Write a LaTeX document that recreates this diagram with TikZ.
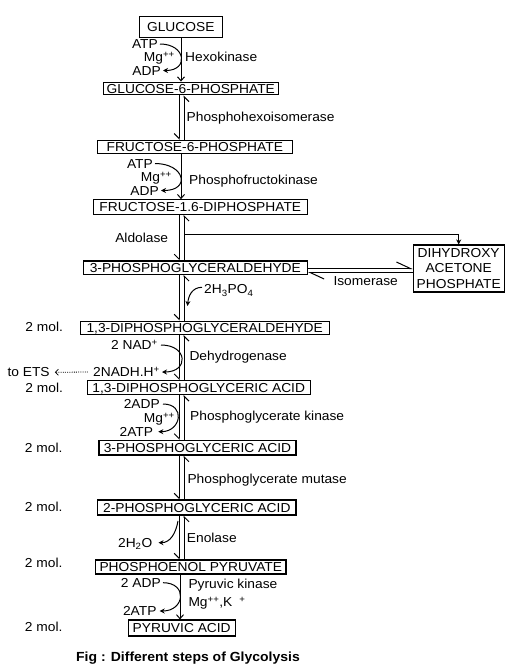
\documentclass[tikz,border=0pt]{standalone}
\usepackage{fontspec}
\setmainfont{Liberation Sans}[FakeStretch=1.06]
\usetikzlibrary{arrows.meta,calc}
\begin{document}
\begin{tikzpicture}[x=1pt,y=1pt,
  font=\fontsize{13}{15.5}\selectfont,
  box/.style={draw, line width=1.1pt, inner sep=0pt, text height=9.3pt, text depth=0pt},
  lbl/.style={inner sep=0pt, text height=9.3pt, text depth=0pt},
  conn/.style={line width=1pt},
  sarr/.style={conn, -{Straight Barb[length=4pt,width=7pt]}},
  harpv/.style={conn, -{Straight Barb[right,length=5pt,width=10pt]}},
  harph/.style={conn, -{Straight Barb[left,length=14pt,width=13pt]}},
  carr/.style={conn, -{Stealth[length=5pt,width=5pt]}},
  farr/.style={conn, -{Stealth[length=5pt,width=5pt]}},
]
\fill[white] (0,0) rectangle (512,-672);
\useasboundingbox (0,0) rectangle (512,-672);

% axis coordinates
\coordinate (axL) at (179.2,0);
\coordinate (axR) at (184,0);
\coordinate (axM) at (181,0);
\coordinate (axN) at (180,0);

% boxes
\node[box, line width=1.4pt, minimum width=83pt, minimum height=20.6pt] (glc) at (180.8,-27) {GLUCOSE};
\node[box, minimum width=175pt, minimum height=12.8pt] (g6p) at (190.8,-88.5) {GLUCOSE-6-PHOSPHATE};
\node[box, minimum width=195pt, minimum height=12.8pt] (f6p) at (194.8,-146.7) {FRUCTOSE-6-PHOSPHATE};
\node[box, minimum width=214pt, minimum height=14.5pt] (f16) at (200.3,-207) {FRUCTOSE-1.6-DIPHOSPHATE};
\node[box, minimum width=224pt, minimum height=13.3pt] (pgal) at (195.3,-267.6) {3-PHOSPHOGLYCERALDEHYDE};
\node[draw, line width=1.1pt, inner sep=0pt, minimum width=91pt, minimum height=47pt, align=center] (dhap) at (458.7,-268.5) {DIHYDROXY\\ACETONE\\PHOSPHATE};
\node[box, minimum width=249.3pt, minimum height=13.3pt] (dpgal) at (204.7,-327.7) {1,3-DIPHOSPHOGLYCERALDEHYDE};
\node[box, minimum width=222.7pt, minimum height=13.6pt] (dpga) at (198.7,-387.5) {1,3-DIPHOSPHOGLYCERIC ACID};
\node[box, minimum width=197pt, minimum height=14.5pt] (pga3) at (197.5,-447.7) {3-PHOSPHOGLYCERIC ACID};
\node[box, minimum width=198.3pt, minimum height=15pt] (pga2) at (196.8,-507.5) {2-PHOSPHOGLYCERIC ACID};
\node[box, minimum width=190.3pt, minimum height=14pt] (pep) at (190.8,-567) {PHOSPHOENOL PYRUVATE};
\node[box, minimum width=106.7pt, minimum height=16pt] (pyr) at (181.7,-628) {PYRUVIC ACID};

% main connectors
\draw[sarr] (glc.south -| axM) -- (g6p.north -| axM);
\draw[harpv] (g6p.south -| axL) -- (f6p.north -| axL);
\draw[harpv] (f6p.north -| axR) -- (g6p.south -| axR);
\draw[sarr] (f6p.south -| axM) -- (f16.north -| axM);
\draw[harpv] (f16.south -| axL) -- (pgal.north -| axL);
\draw[harpv] (pgal.north -| axR) -- (f16.south -| axR);
\coordinate (br) at (184,-234);
\draw[farr] (br) -| (dhap.north);
\coordinate (hu) at (0,-268.5);
\coordinate (hd) at (0,-272.5);
\draw[harph] (pgal.east |- hu) -- (dhap.west |- hu);
\draw[harph] (dhap.west |- hd) -- (pgal.east |- hd);
\draw[harpv] (pgal.south -| axL) -- (dpgal.north -| axL);
\draw[harpv] (dpgal.north -| axR) -- (pgal.south -| axR);
\draw[harpv] (dpgal.south -| axL) -- (dpga.north -| axL);
\draw[harpv] (dpga.north -| axR) -- (dpgal.south -| axR);
\draw[harpv] (dpga.south -| axL) -- (pga3.north -| axL);
\draw[harpv] (pga3.north -| axR) -- (dpga.south -| axR);
\draw[harpv] (pga3.south -| axL) -- (pga2.north -| axL);
\draw[harpv] (pga2.north -| axR) -- (pga3.south -| axR);
\draw[harpv] (pga2.south -| axL) -- (pep.north -| axL);
\draw[harpv] (pep.north -| axR) -- (pga2.south -| axR);
\draw[sarr] (pep.south -| axN) -- (pyr.north -| axN);

% labels
\node[lbl, anchor=east] (atp1) at (158,-44) {ATP};
\node[lbl, anchor=east] (mg1) at (175,-57) {Mg\textsuperscript{++}};
\node[lbl, anchor=east] (adp1) at (161,-70.5) {ADP};
\node[lbl, anchor=west] (hexo) at (185,-57) {Hexokinase};
\node[lbl, anchor=west] (phi) at (186.5,-116.7) {Phosphohexoisomerase};
\node[lbl, anchor=east] (atp2) at (153,-163.5) {ATP};
\node[lbl, anchor=east] (mg2) at (172,-177) {Mg\textsuperscript{++}};
\node[lbl, anchor=east] (adp2) at (159,-190.5) {ADP};
\node[lbl, anchor=west] (pfk) at (189,-180) {Phosphofructokinase};
\node[lbl] (ald) at (141.7,-237.7) {Aldolase};
\node[lbl, anchor=west] (iso) at (333.3,-281) {Isomerase};
\node[lbl, anchor=west] (hpo) at (204,-289.3) {2H\textsubscript{3}PO\textsubscript{4}};
\node[lbl] (mol1) at (44.2,-326.7) {2 mol.};
\node[lbl, anchor=east] (nad) at (158,-345) {2 NAD\textsuperscript{+}};
\node[lbl, anchor=west] (dehyd) at (189.3,-355.7) {Dehydrogenase};
\node[lbl, anchor=east] (nadh) at (160,-372) {2NADH.H\textsuperscript{+}};
\node[lbl, anchor=west] (ets) at (7.3,-372.3) {to ETS};
\node[lbl] (mol2) at (44.2,-387.7) {2 mol.};
\node[lbl, anchor=east] (adp3) at (160,-404) {2ADP};
\node[lbl, anchor=east] (mg3) at (175,-418.3) {Mg\textsuperscript{++}};
\node[lbl, anchor=east] (atp3) at (153.3,-431.7) {2ATP};
\node[lbl, anchor=west] (pgk) at (190,-415.7) {Phosphoglycerate kinase};
\node[lbl] (mol3) at (43.7,-447.7) {2 mol.};
\node[lbl, anchor=west] (pgm) at (187.3,-478.7) {Phosphoglycerate mutase};
\node[lbl] (mol4) at (43.7,-506.7) {2 mol.};
\node[lbl, anchor=west] (eno) at (186.7,-538.3) {Enolase};
\node[lbl, anchor=east] (h2o) at (152.5,-542.7) {2H\textsubscript{2}O};
\node[lbl] (mol5) at (43.7,-563.3) {2 mol.};
\node[lbl, anchor=east] (adp4) at (161,-582.7) {2 ADP};
\node[lbl, anchor=west] (pk) at (188.3,-584.3) {Pyruvic kinase};
\node[lbl, anchor=west] (mgk) at (188.3,-601.7) {Mg\textsuperscript{++},K\hspace{7pt}\textsuperscript{+}};
\node[lbl, anchor=east] (atp4) at (156.7,-611) {2ATP};
\node[lbl] (mol6) at (43.7,-626.7) {2 mol.};
\node[lbl, font=\bfseries\fontsize{13.2}{16}\selectfont] (cap) at (188,-657.3) {Fig : Different steps of Glycolysis};

% side curved arrows
\draw[carr] ($(atp1.east)+(2,0)$) to[out=0,in=0,distance=26pt] ($(adp1.east)+(2,0)$);
\draw[carr] ($(atp2.east)+(2,0)$) to[out=0,in=0,distance=30pt] ($(adp2.east)+(2,0)$);
\draw[carr] ($(nad.east)+(3,0)$) to[out=0,in=0,distance=27pt] ($(nadh.east)+(2,0)$);
\draw[carr] ($(adp3.east)+(3,0)$) to[out=0,in=0,distance=23pt] ($(atp3.east)+(5,0)$);
\draw[carr] ($(adp4.east)+(2,0)$) to[out=0,in=0,distance=25pt] ($(atp4.east)+(3,0)$);
\coordinate (hpoT) at (187.5,-306);
\draw[carr] ($(hpo.west)+(-2,2)$) to[out=180,in=85,distance=10pt] (hpoT);
\coordinate (h2oS) at (178,-521);
\draw[carr] (h2oS) to[out=-100,in=0,distance=12pt] ($(h2o.east)+(6,0)$);
\draw[line width=0.8pt, dash pattern=on 1pt off 1.2pt, -{Straight Barb[length=3pt,width=6pt]}] ($(nadh.west)+(-5,0)$) -- ($(ets.east)+(5,0)$);
\end{tikzpicture}
\end{document}
